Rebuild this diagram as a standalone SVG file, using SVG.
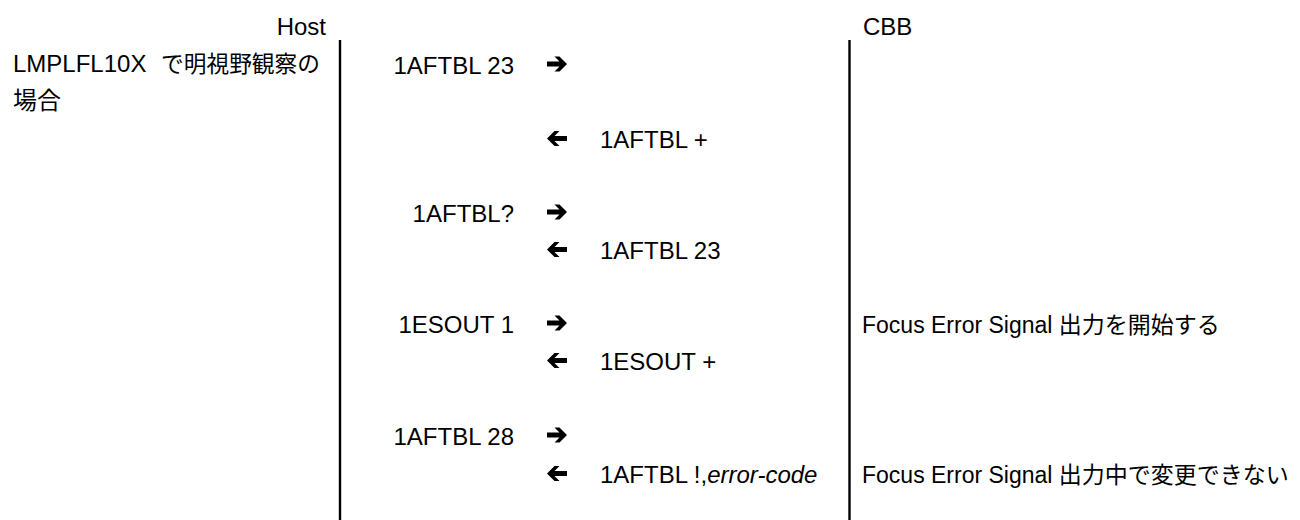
<svg xmlns="http://www.w3.org/2000/svg" xmlns:xlink="http://www.w3.org/1999/xlink" width="1300" height="520" viewBox="0 0 1300 520">
  <style>
    text { font-family: "Liberation Sans", "Noto Sans CJK JP", sans-serif; font-size: 24px; fill: #000; }
    .end { text-anchor: end; }
    .note { font-size: 23px; }
    .lane { stroke: #000; stroke-width: 2.4; fill: none; }
    .arrow { fill: #000; }
  </style>
  <defs>
    <!-- bold arrow glyph: origin at tail centre, pointing right, 20 wide -->
    <path id="arr" class="arrow" d="M0,-2.5 H12.5 L7.5,-7.5 H12.5 L20,0 L12.5,7.5 H7.5 L12.5,2.5 H0 Z"/>
  </defs>
  <rect width="1300" height="520" fill="#fff"/>

  <!-- lane headers and lifelines -->
  <g id="host">
    <text class="end" x="326" y="35">Host</text>
    <line class="lane" x1="340" y1="40" x2="340" y2="520"/>
  </g>
  <g id="cbb">
    <text x="863" y="35">CBB</text>
    <line class="lane" x1="849.5" y1="40" x2="849.5" y2="520"/>
  </g>

  <!-- condition note -->
  <g id="condition">
    <text x="13" y="72">LMPLFL10X <tspan dx="8" font-size="22.7">で明視野観察の</tspan></text>
    <text x="13" y="109" font-size="22.7">場合</text>
  </g>

  <!-- commands sent by the host -->
  <g id="commands">
    <text class="end" x="514" y="74">1AFTBL 23</text>
    <text class="end" x="514" y="222">1AFTBL?</text>
    <text class="end" x="514" y="333">1ESOUT 1</text>
    <text class="end" x="514" y="445">1AFTBL 28</text>
  </g>

  <!-- replies from the CBB -->
  <g id="replies">
    <text x="600" y="148">1AFTBL +</text>
    <text x="600" y="259">1AFTBL 23</text>
    <text x="600" y="370">1ESOUT +</text>
    <text x="600" y="483">1AFTBL !,<tspan font-style="italic">error-code</tspan></text>
  </g>

  <!-- CBB side remarks -->
  <g id="remarks">
    <text class="note" x="862" y="333">Focus Error Signal 出力を開始する</text>
    <text class="note" x="862" y="483">Focus Error Signal 出力中で変更できない</text>
  </g>

  <!-- direction arrows -->
  <g id="connectors">
    <use xlink:href="#arr" transform="translate(547,64)"/>
    <use xlink:href="#arr" transform="translate(567,138.5) scale(-1,1)"/>
    <use xlink:href="#arr" transform="translate(547,212)"/>
    <use xlink:href="#arr" transform="translate(567,249.5) scale(-1,1)"/>
    <use xlink:href="#arr" transform="translate(547,323)"/>
    <use xlink:href="#arr" transform="translate(567,360.5) scale(-1,1)"/>
    <use xlink:href="#arr" transform="translate(547,435)"/>
    <use xlink:href="#arr" transform="translate(567,473.5) scale(-1,1)"/>
  </g>
</svg>
